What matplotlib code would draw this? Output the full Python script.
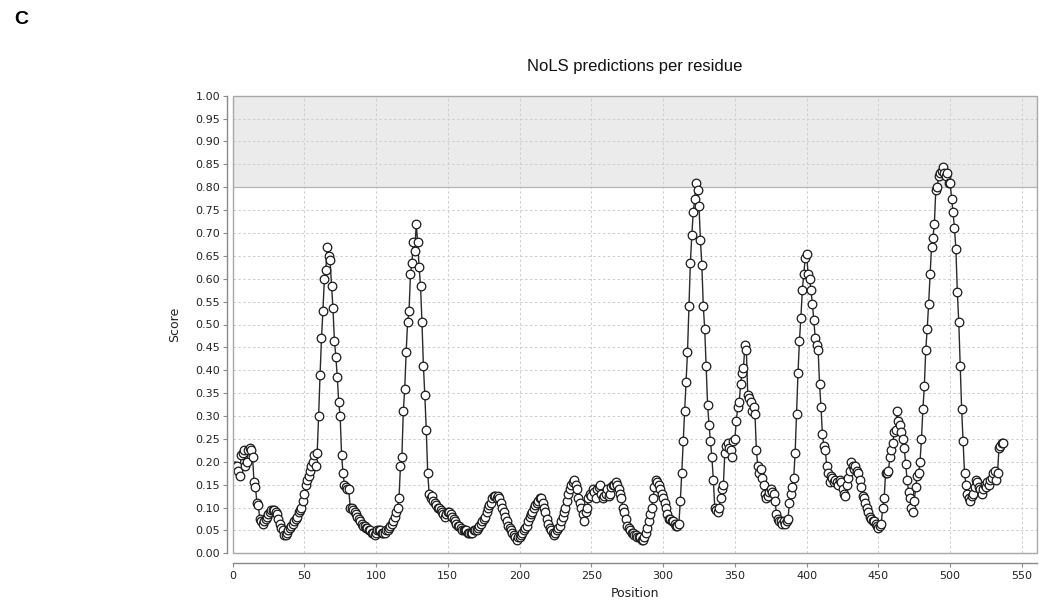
import matplotlib
matplotlib.use("Agg")
import matplotlib.pyplot as plt
from matplotlib.patches import Rectangle

# NoLS score per residue (position 1..537)
scores = [
    0.19, 0.19, 0.19, 0.18, 0.17, 0.215, 0.22, 0.225, 0.19, 0.20,
    0.225, 0.23, 0.225, 0.21, 0.155, 0.145, 0.11, 0.105, 0.075, 0.07,
    0.065, 0.07, 0.075, 0.08, 0.085, 0.09, 0.095, 0.095, 0.095, 0.09,
    0.085, 0.075, 0.065, 0.055, 0.05, 0.04, 0.04, 0.045, 0.05, 0.055,
    0.06, 0.065, 0.07, 0.075, 0.08, 0.09, 0.095, 0.10, 0.115, 0.13,
    0.15, 0.16, 0.17, 0.18, 0.19, 0.20, 0.215, 0.19, 0.22, 0.30,
    0.39, 0.47, 0.53, 0.60, 0.62, 0.67, 0.65, 0.64, 0.585, 0.535,
    0.465, 0.43, 0.385, 0.33, 0.30, 0.215, 0.175, 0.15, 0.145, 0.14,
    0.14, 0.10, 0.10, 0.095, 0.09, 0.085, 0.08, 0.075, 0.07, 0.065,
    0.06, 0.06, 0.055, 0.055, 0.05, 0.05, 0.045, 0.045, 0.04, 0.045,
    0.05, 0.05, 0.05, 0.045, 0.045, 0.045, 0.05, 0.05, 0.055, 0.06,
    0.065, 0.07, 0.08, 0.09, 0.10, 0.12, 0.19, 0.21, 0.31, 0.36,
    0.44, 0.505, 0.53, 0.61, 0.635, 0.68, 0.66, 0.72, 0.68, 0.625,
    0.585, 0.505, 0.41, 0.345, 0.27, 0.175, 0.13, 0.12, 0.125, 0.115,
    0.11, 0.105, 0.10, 0.10, 0.095, 0.09, 0.085, 0.08, 0.085, 0.09,
    0.09, 0.085, 0.08, 0.075, 0.07, 0.065, 0.06, 0.06, 0.055, 0.05,
    0.05, 0.05, 0.05, 0.045, 0.045, 0.045, 0.045, 0.05, 0.05, 0.05,
    0.055, 0.06, 0.065, 0.07, 0.075, 0.08, 0.09, 0.10, 0.105, 0.11,
    0.12, 0.125, 0.125, 0.12, 0.125, 0.12, 0.11, 0.10, 0.09, 0.08,
    0.07, 0.06, 0.055, 0.05, 0.045, 0.04, 0.035, 0.03, 0.035, 0.035,
    0.04, 0.045, 0.05, 0.055, 0.06, 0.07, 0.08, 0.085, 0.09, 0.10,
    0.105, 0.11, 0.115, 0.12, 0.12, 0.11, 0.10, 0.09, 0.075, 0.065,
    0.055, 0.05, 0.045, 0.04, 0.045, 0.05, 0.055, 0.06, 0.07, 0.08,
    0.09, 0.10, 0.115, 0.13, 0.14, 0.15, 0.155, 0.16, 0.15, 0.14,
    0.12, 0.11, 0.10, 0.085, 0.07, 0.09, 0.10, 0.12, 0.13, 0.125,
    0.14, 0.135, 0.12, 0.14, 0.145, 0.15, 0.13, 0.12, 0.125, 0.13,
    0.14, 0.125, 0.13, 0.145, 0.15, 0.15, 0.155, 0.15, 0.14, 0.13,
    0.12, 0.10, 0.09, 0.075, 0.06, 0.055, 0.05, 0.045, 0.045, 0.04,
    0.04, 0.035, 0.035, 0.035, 0.03, 0.03, 0.035, 0.045, 0.055, 0.07,
    0.085, 0.10, 0.12, 0.145, 0.16, 0.155, 0.15, 0.14, 0.13, 0.12,
    0.11, 0.10, 0.085, 0.075, 0.075, 0.07, 0.07, 0.065, 0.06, 0.06,
    0.065, 0.115, 0.175, 0.245, 0.31, 0.375, 0.44, 0.54, 0.635, 0.695,
    0.745, 0.775, 0.81, 0.795, 0.76, 0.685, 0.63, 0.54, 0.49, 0.41,
    0.325, 0.28, 0.245, 0.21, 0.16, 0.10, 0.095, 0.09, 0.10, 0.12,
    0.14, 0.15, 0.22, 0.235, 0.24, 0.23, 0.225, 0.21, 0.245, 0.25,
    0.29, 0.32, 0.33, 0.37, 0.395, 0.405, 0.455, 0.445, 0.345, 0.34,
    0.33, 0.31, 0.32, 0.305, 0.225, 0.19, 0.175, 0.185, 0.165, 0.15,
    0.13, 0.12, 0.125, 0.135, 0.14, 0.135, 0.13, 0.115, 0.085, 0.075,
    0.07, 0.07, 0.065, 0.07, 0.065, 0.07, 0.075, 0.11, 0.13, 0.145,
    0.165, 0.22, 0.305, 0.395, 0.465, 0.515, 0.575, 0.61, 0.645, 0.655,
    0.61, 0.60, 0.575, 0.545, 0.51, 0.47, 0.455, 0.445, 0.37, 0.32,
    0.26, 0.235, 0.225, 0.19, 0.175, 0.155, 0.17, 0.165, 0.155, 0.16,
    0.155, 0.15, 0.16, 0.155, 0.14, 0.13, 0.125, 0.15, 0.165, 0.18,
    0.20, 0.19, 0.185, 0.19, 0.18, 0.175, 0.16, 0.145, 0.125, 0.12,
    0.11, 0.10, 0.09, 0.08, 0.075, 0.07, 0.07, 0.065, 0.06, 0.055,
    0.06, 0.065, 0.10, 0.12, 0.175, 0.175, 0.18, 0.21, 0.225, 0.24,
    0.265, 0.27, 0.31, 0.29, 0.28, 0.265, 0.25, 0.23, 0.195, 0.16,
    0.135, 0.12, 0.10, 0.09, 0.115, 0.145, 0.17, 0.175, 0.20, 0.25,
    0.315, 0.365, 0.445, 0.49, 0.545, 0.61, 0.67, 0.69, 0.72, 0.795,
    0.80, 0.825, 0.83, 0.835, 0.845, 0.83, 0.825, 0.83, 0.81, 0.81,
    0.775, 0.745, 0.71, 0.665, 0.57, 0.505, 0.41, 0.315, 0.245, 0.175,
    0.15, 0.13, 0.12, 0.115, 0.125, 0.13, 0.145, 0.16, 0.155, 0.145,
    0.14, 0.13, 0.14, 0.15, 0.145, 0.155, 0.15, 0.16, 0.165, 0.175,
    0.18, 0.16, 0.175, 0.23, 0.235, 0.24, 0.24,
]
positions = list(range(1, len(scores) + 1))

y_ticks = [i / 100 for i in range(0, 101, 5)]
y_ticklabels = [f"{v:.2f}" for v in y_ticks]
x_ticks = list(range(0, 551, 50))
x_ticklabels = [str(v) for v in x_ticks]
threshold = 0.80

W, H = 1039, 604
fig = plt.figure(figsize=(W / 100, H / 100), dpi=100)
fig.patch.set_facecolor("white")

left_px, right_px, top_px, bottom_px = 232.5, 1037, 95.7, 553.3
ax = fig.add_axes([left_px / W, 1 - bottom_px / H,
                   (right_px - left_px) / W, (bottom_px - top_px) / H])

ax.set_xlim(0, 560.5)
ax.set_ylim(0, 1.0)

# shaded region above threshold
ax.axhspan(threshold, 1.0, color="#ebebeb", zorder=0.1, lw=0)
ax.axhline(threshold, color="#b5b5b5", lw=0.9, zorder=0.6)

ax.set_xticks(x_ticks)
ax.set_xticklabels(x_ticklabels)
ax.set_yticks(y_ticks)
ax.set_yticklabels(y_ticklabels)
ax.set_axisbelow(True)
ax.grid(True, color="#cdcdcd", linestyle=(0, (2.5, 2.5)), lw=0.7)

ax.plot(positions, scores, "-", color="#2a2a2a", lw=1.0, zorder=2)
ax.plot(positions, scores, "o", ms=6.2, mfc="white", mec="#1a1a1a",
        mew=0.9, zorder=3, linestyle="none")

# plot border
for s in ["top", "right"]:
    ax.spines[s].set_visible(False)
ax.add_patch(Rectangle((0, 0), 1, 1, transform=ax.transAxes, fill=False,
                       edgecolor="#a8a8a8", lw=1.0, zorder=4, clip_on=False))

ax.spines["left"].set_position(("outward", 4))
ax.spines["bottom"].set_position(("outward", 7))
for s in ["left", "bottom"]:
    ax.spines[s].set_color("#8a8a8a")
    ax.spines[s].set_linewidth(1.0)
ax.tick_params(axis="both", colors="#8a8a8a", length=3, width=0.8,
               labelcolor="#222222", labelsize=8)
ax.tick_params(axis="y", pad=2)
ax.tick_params(axis="x", pad=3)

ax.set_xlabel("Position", fontsize=9, color="#222222", labelpad=4)
ax.set_ylabel("Score", fontsize=9, color="#222222", labelpad=10)

fig.text(634.75 / W, 1 - 66 / H, "NoLS predictions per residue",
         ha="center", va="center", fontsize=12,
         family=["Liberation Sans", "DejaVu Sans"], color="#111111")
fig.text(14 / W, 1 - 20 / H, "C", ha="left", va="center", fontsize=14,
         fontweight="bold", family=["Liberation Sans", "DejaVu Sans"],
         color="#000000")

fig.savefig("out.png", dpi=100, facecolor="white")
